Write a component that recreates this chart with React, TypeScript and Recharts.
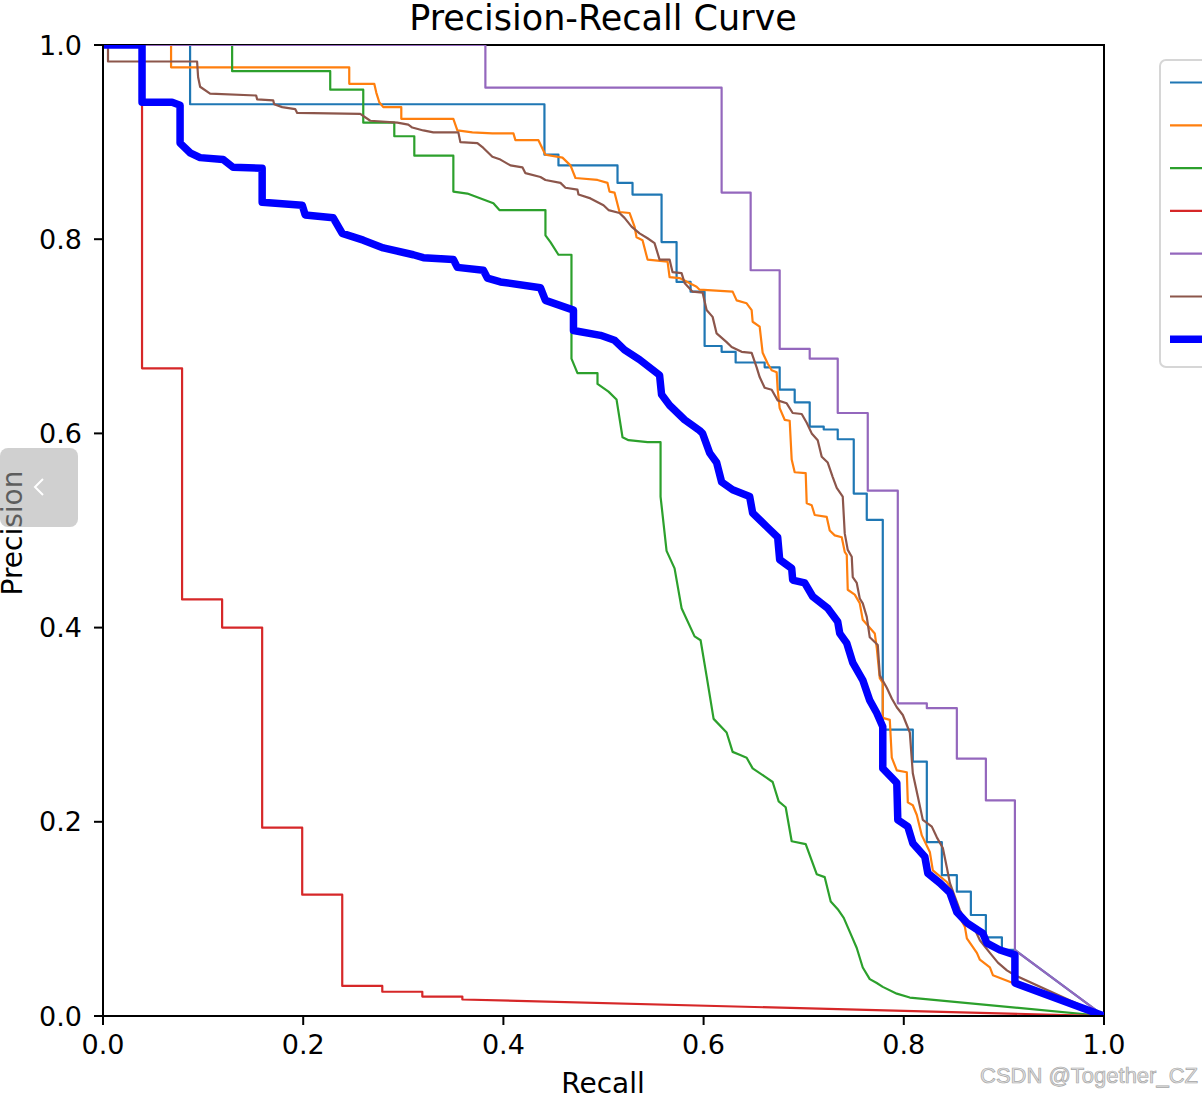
import { LineChart, Line, XAxis, YAxis, ReferenceArea } from "recharts";

// [recall, precision] pairs
const class0Pr = [
  [0, 1], [0.087, 1], [0.087, 0.939], [0.441, 0.939], [0.441, 0.887], [0.455, 0.887],
  [0.455, 0.876], [0.514, 0.876], [0.514, 0.858], [0.529, 0.858], [0.529, 0.846],
  [0.558, 0.846], [0.558, 0.797], [0.573, 0.797], [0.573, 0.756], [0.587, 0.756],
  [0.587, 0.746], [0.601, 0.746], [0.601, 0.69], [0.618, 0.69], [0.618, 0.684],
  [0.632, 0.684], [0.632, 0.673], [0.661, 0.673], [0.661, 0.668], [0.676, 0.668],
  [0.676, 0.645], [0.691, 0.645], [0.691, 0.632], [0.706, 0.632], [0.706, 0.607],
  [0.72, 0.607], [0.72, 0.604], [0.734, 0.604], [0.734, 0.594], [0.75, 0.594],
  [0.75, 0.538], [0.763, 0.538], [0.763, 0.511], [0.779, 0.511], [0.779, 0.295],
  [0.809, 0.295], [0.809, 0.262], [0.823, 0.262], [0.823, 0.179], [0.838, 0.179],
  [0.838, 0.145], [0.853, 0.145], [0.853, 0.128], [0.867, 0.128], [0.867, 0.104],
  [0.882, 0.104], [0.882, 0.081], [0.898, 0.081], [0.898, 0.068], [0.911, 0.068],
  [1, 0],
];

const class1Pr = [
  [0, 1], [0.068, 1], [0.068, 0.977], [0.246, 0.977], [0.246, 0.96], [0.271, 0.96],
  [0.273, 0.951], [0.276, 0.941], [0.28, 0.936], [0.298, 0.936], [0.298, 0.924],
  [0.35, 0.924], [0.354, 0.912], [0.369, 0.91], [0.389, 0.909], [0.41, 0.909],
  [0.412, 0.902], [0.435, 0.902], [0.442, 0.887], [0.459, 0.884], [0.467, 0.876],
  [0.472, 0.863], [0.494, 0.861], [0.504, 0.858], [0.506, 0.849], [0.511, 0.848],
  [0.516, 0.828], [0.526, 0.827], [0.531, 0.813], [0.533, 0.802], [0.539, 0.799],
  [0.544, 0.779], [0.564, 0.777], [0.566, 0.761], [0.576, 0.76], [0.593, 0.751],
  [0.596, 0.748], [0.629, 0.746], [0.633, 0.737], [0.643, 0.734], [0.648, 0.727],
  [0.649, 0.715], [0.656, 0.71], [0.659, 0.683], [0.664, 0.672], [0.668, 0.665],
  [0.673, 0.663], [0.674, 0.645], [0.676, 0.626], [0.681, 0.614], [0.686, 0.613],
  [0.688, 0.573], [0.691, 0.56], [0.702, 0.559], [0.703, 0.528], [0.708, 0.526],
  [0.711, 0.516], [0.723, 0.514], [0.726, 0.5], [0.731, 0.495], [0.738, 0.493],
  [0.741, 0.478], [0.743, 0.475], [0.744, 0.439], [0.751, 0.434], [0.756, 0.425],
  [0.759, 0.408], [0.771, 0.394], [0.773, 0.379], [0.776, 0.348], [0.779, 0.343],
  [0.779, 0.307], [0.786, 0.305], [0.788, 0.266], [0.793, 0.253], [0.803, 0.251],
  [0.804, 0.22], [0.809, 0.217], [0.813, 0.207], [0.818, 0.186], [0.826, 0.169],
  [0.829, 0.15], [0.843, 0.138], [0.848, 0.13], [0.853, 0.107], [0.861, 0.092],
  [0.863, 0.08], [0.873, 0.065], [0.876, 0.058], [0.886, 0.05], [0.889, 0.042],
  [0.909, 0.034], [1, 0],
];

const class2Pr = [
  [0, 1], [0.129, 1], [0.129, 0.973], [0.227, 0.973], [0.227, 0.954], [0.26, 0.954],
  [0.26, 0.92], [0.291, 0.92], [0.291, 0.906], [0.311, 0.906], [0.311, 0.886],
  [0.35, 0.886], [0.35, 0.849], [0.364, 0.847], [0.39, 0.837], [0.396, 0.83],
  [0.442, 0.83], [0.442, 0.804], [0.447, 0.797], [0.455, 0.784], [0.468, 0.784],
  [0.468, 0.677], [0.474, 0.662], [0.494, 0.662], [0.494, 0.651], [0.505, 0.643],
  [0.513, 0.635], [0.519, 0.596], [0.525, 0.593], [0.544, 0.591], [0.557, 0.591],
  [0.557, 0.535], [0.563, 0.479], [0.571, 0.461], [0.578, 0.42], [0.591, 0.391],
  [0.597, 0.387], [0.603, 0.35], [0.61, 0.306], [0.623, 0.292], [0.629, 0.272],
  [0.636, 0.269], [0.643, 0.266], [0.649, 0.255], [0.662, 0.246], [0.669, 0.241],
  [0.675, 0.221], [0.682, 0.215], [0.688, 0.18], [0.702, 0.177], [0.713, 0.146],
  [0.721, 0.143], [0.727, 0.118], [0.734, 0.11], [0.74, 0.101], [0.748, 0.082],
  [0.753, 0.07], [0.759, 0.05], [0.766, 0.038], [0.773, 0.034], [0.779, 0.03],
  [0.793, 0.023], [0.806, 0.019], [1, 0],
];

const class3Pr = [
  [0, 1], [0.039, 1], [0.039, 0.667], [0.079, 0.667], [0.079, 0.429], [0.119, 0.429],
  [0.119, 0.4], [0.159, 0.4], [0.159, 0.194], [0.199, 0.194], [0.199, 0.125],
  [0.239, 0.125], [0.239, 0.031], [0.279, 0.031], [0.279, 0.025], [0.319, 0.025],
  [0.319, 0.02], [0.359, 0.02], [0.359, 0.017], [1, 0],
];

const class4Pr = [
  [0, 1], [0.382, 1], [0.382, 0.956], [0.618, 0.956], [0.618, 0.848], [0.647, 0.848],
  [0.647, 0.768], [0.676, 0.768], [0.676, 0.687], [0.706, 0.687], [0.706, 0.677],
  [0.734, 0.677], [0.734, 0.621], [0.764, 0.621], [0.764, 0.541], [0.794, 0.541],
  [0.794, 0.322], [0.823, 0.322], [0.823, 0.317], [0.853, 0.317], [0.853, 0.265],
  [0.882, 0.265], [0.882, 0.222], [0.911, 0.222], [0.911, 0.068], [1, 0],
];

const class5Pr = [
  [0, 1], [0.005, 1], [0.005, 0.983], [0.094, 0.983], [0.095, 0.967], [0.097, 0.957],
  [0.107, 0.95], [0.153, 0.948], [0.154, 0.944], [0.17, 0.943], [0.171, 0.939],
  [0.179, 0.936], [0.192, 0.934], [0.194, 0.93], [0.257, 0.929], [0.267, 0.922],
  [0.294, 0.92], [0.305, 0.918], [0.309, 0.915], [0.32, 0.912], [0.33, 0.91],
  [0.355, 0.91], [0.357, 0.9], [0.374, 0.899], [0.38, 0.894], [0.389, 0.885],
  [0.397, 0.882], [0.407, 0.876], [0.419, 0.874], [0.422, 0.868], [0.437, 0.864],
  [0.442, 0.861], [0.457, 0.858], [0.462, 0.853], [0.474, 0.851], [0.475, 0.846],
  [0.487, 0.842], [0.5, 0.835], [0.505, 0.83], [0.516, 0.827], [0.521, 0.822],
  [0.528, 0.813], [0.536, 0.806], [0.544, 0.801], [0.551, 0.796], [0.556, 0.779],
  [0.566, 0.779], [0.569, 0.766], [0.578, 0.765], [0.581, 0.755], [0.589, 0.746],
  [0.599, 0.745], [0.603, 0.727], [0.609, 0.72], [0.613, 0.703], [0.623, 0.694],
  [0.628, 0.689], [0.638, 0.684], [0.648, 0.683], [0.653, 0.668], [0.656, 0.658],
  [0.661, 0.647], [0.668, 0.645], [0.674, 0.634], [0.683, 0.631], [0.689, 0.621],
  [0.698, 0.62], [0.703, 0.611], [0.708, 0.6], [0.714, 0.593], [0.718, 0.576],
  [0.724, 0.57], [0.729, 0.555], [0.733, 0.544], [0.739, 0.535], [0.741, 0.497],
  [0.744, 0.48], [0.748, 0.473], [0.749, 0.452], [0.753, 0.446], [0.756, 0.43],
  [0.759, 0.425], [0.763, 0.411], [0.766, 0.39], [0.774, 0.382], [0.776, 0.351],
  [0.783, 0.338], [0.788, 0.327], [0.793, 0.318], [0.799, 0.31], [0.806, 0.292],
  [0.809, 0.25], [0.814, 0.226], [0.819, 0.202], [0.828, 0.195], [0.833, 0.184],
  [0.839, 0.173], [0.843, 0.153], [0.846, 0.137], [0.851, 0.123], [0.856, 0.109],
  [0.861, 0.099], [0.871, 0.089], [0.876, 0.078], [0.886, 0.065], [0.894, 0.055],
  [0.903, 0.047], [0.911, 0.042], [1, 0],
];

const allClassesPr = [
  [0, 1], [0.039, 1], [0.039, 0.941], [0.069, 0.941], [0.077, 0.938], [0.077, 0.899],
  [0.087, 0.889], [0.097, 0.884], [0.12, 0.882], [0.13, 0.874], [0.159, 0.873],
  [0.159, 0.838], [0.199, 0.835], [0.202, 0.825], [0.23, 0.822], [0.239, 0.806],
  [0.26, 0.799], [0.28, 0.791], [0.31, 0.784], [0.32, 0.781], [0.35, 0.779],
  [0.354, 0.771], [0.38, 0.768], [0.384, 0.76], [0.397, 0.756], [0.437, 0.75],
  [0.442, 0.737], [0.47, 0.727], [0.47, 0.706], [0.497, 0.701], [0.511, 0.696],
  [0.521, 0.686], [0.536, 0.676], [0.556, 0.66], [0.558, 0.64], [0.566, 0.629],
  [0.581, 0.614], [0.596, 0.603], [0.599, 0.6], [0.606, 0.58], [0.613, 0.57],
  [0.618, 0.55], [0.629, 0.542], [0.646, 0.535], [0.649, 0.518], [0.663, 0.504],
  [0.674, 0.493], [0.676, 0.47], [0.688, 0.461], [0.689, 0.449], [0.701, 0.446],
  [0.709, 0.432], [0.724, 0.42], [0.734, 0.406], [0.736, 0.394], [0.743, 0.384],
  [0.749, 0.364], [0.759, 0.346], [0.766, 0.325], [0.773, 0.312], [0.779, 0.298],
  [0.779, 0.255], [0.793, 0.24], [0.794, 0.202], [0.804, 0.195], [0.809, 0.178],
  [0.821, 0.164], [0.824, 0.147], [0.836, 0.137], [0.846, 0.127], [0.853, 0.107],
  [0.863, 0.096], [0.879, 0.085], [0.883, 0.075], [0.896, 0.068], [0.911, 0.063],
  [0.911, 0.034], [1, 0],
];

const axisTicks = [0, 0.2, 0.4, 0.6, 0.8, 1.0];

const toPoints = (pairs: number[][]) =>
  pairs.map(([recall, precision]) => ({ recall, precision }));

const series = [
  { key: "c0", pairs: class0Pr, color: "#1f77b4", width: 2.2 },
  { key: "c1", pairs: class1Pr, color: "#ff7f0e", width: 2.2 },
  { key: "c2", pairs: class2Pr, color: "#2ca02c", width: 2.2 },
  { key: "c3", pairs: class3Pr, color: "#d62728", width: 2.2 },
  { key: "c4", pairs: class4Pr, color: "#9467bd", width: 2.2 },
  { key: "c5", pairs: class5Pr, color: "#8c564b", width: 2.2 },
  { key: "all", pairs: allClassesPr, color: "#0000ff", width: 7.5 },
];

const font = "DejaVu Sans, sans-serif";
const tickStyle = { fill: "#000", fontSize: 27, fontFamily: font };

const App = () => {
  return (
    <div
      style={{
        position: "absolute",
        left: 0,
        top: 0,
        width: 1202,
        height: 1094,
        overflow: "hidden",
        background: "#fff",
      }}
    >
      <LineChart
        width={1202}
        height={1094}
        margin={{ top: 45, right: 98, bottom: 18, left: 43 }}
      >
        <XAxis
          type="number"
          dataKey="recall"
          domain={[0, 1]}
          ticks={axisTicks}
          allowDataOverflow
          height={60}
          tickFormatter={(v: number) => v.toFixed(1)}
          tick={tickStyle}
          tickSize={9}
          tickMargin={10}
          axisLine={{ stroke: "#000", strokeWidth: 2 }}
          tickLine={{ stroke: "#000", strokeWidth: 2 }}
        />
        <YAxis
          type="number"
          domain={[0, 1]}
          ticks={axisTicks}
          allowDataOverflow
          width={60}
          tickFormatter={(v: number) => v.toFixed(1)}
          tick={tickStyle}
          tickSize={9}
          tickMargin={12}
          axisLine={{ stroke: "#000", strokeWidth: 2 }}
          tickLine={{ stroke: "#000", strokeWidth: 2 }}
        />
        {series.map((s) => (
          <Line
            key={s.key}
            data={toPoints(s.pairs)}
            dataKey="precision"
            type="linear"
            stroke={s.color}
            strokeWidth={s.width}
            strokeLinejoin="round"
            dot={false}
            activeDot={false}
            isAnimationActive={false}
          />
        ))}
        <ReferenceArea
          x1={0}
          x2={1}
          y1={0}
          y2={1}
          fill="none"
          stroke="#000"
          strokeWidth={2}
          ifOverflow="visible"
        />
      </LineChart>

      <svg
        width={1202}
        height={1094}
        style={{ position: "absolute", left: 0, top: 0, pointerEvents: "none" }}
      >
        <text x={603} y={30} textAnchor="middle" fontSize={35} fontFamily={font} fill="#000">
          Precision-Recall Curve
        </text>
        <text x={603} y={1093} textAnchor="middle" fontSize={28} fontFamily={font} fill="#000">
          Recall
        </text>
        <text
          x={0}
          y={0}
          transform="translate(22 533) rotate(-90)"
          textAnchor="middle"
          fontSize={28}
          fontFamily={font}
          fill="#000"
        >
          Precision
        </text>

        {/* legend, cut off by the right edge */}
        <rect x={1160} y={60} width={80} height={307} rx={6} fill="#fff" stroke="#d6d6d6" strokeWidth={2} />
        {series.map((s, i) => (
          <line
            key={s.key}
            x1={1170}
            x2={1210}
            y1={82.5 + i * 42.8}
            y2={82.5 + i * 42.8}
            stroke={s.color}
            strokeWidth={s.width}
          />
        ))}

        {/* side button overlay */}
        <rect x={0} y={448} width={78} height={79} rx={8} fill="rgba(170,170,170,0.55)" />
        <polyline points="43,479 35,487 43,495" fill="none" stroke="#fff" strokeWidth={2} />

        <text
          x={1198}
          y={1083}
          textAnchor="end"
          fontSize={22}
          fontFamily="Liberation Sans, sans-serif"
          fill="#e2e2e2"
          stroke="#a6a6a6"
          strokeWidth={0.7}
        >
          CSDN @Together_CZ
        </text>
      </svg>
    </div>
  );
};

export default App;
